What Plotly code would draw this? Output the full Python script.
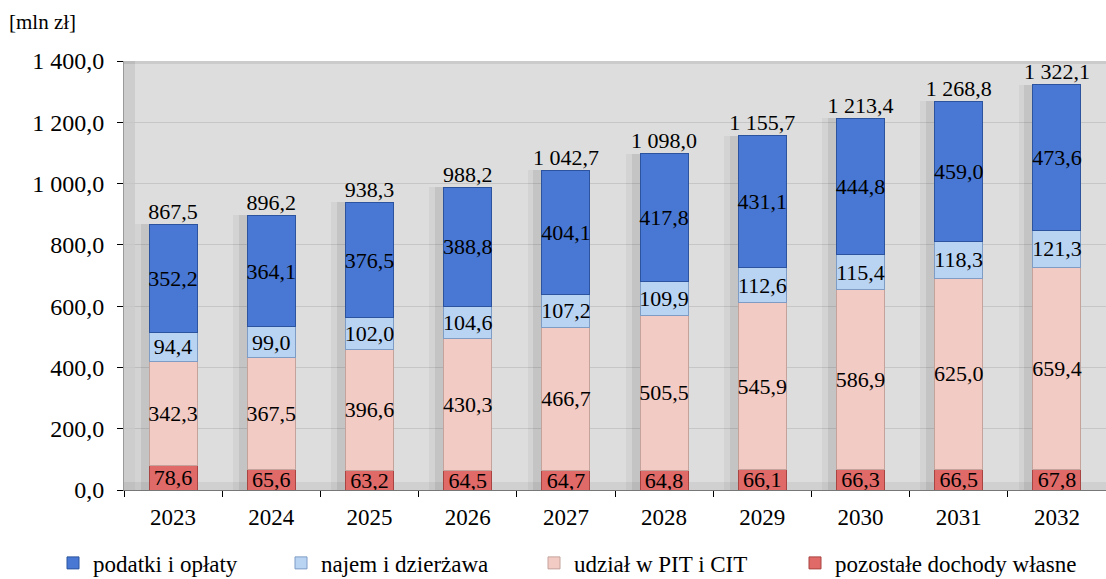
import plotly.graph_objects as go

years = ["2023", "2024", "2025", "2026", "2027", "2028", "2029", "2030", "2031", "2032"]
pozostale = [78.6, 65.6, 63.2, 64.5, 64.7, 64.8, 66.1, 66.3, 66.5, 67.8]
udzial = [342.3, 367.5, 396.6, 430.3, 466.7, 505.5, 545.9, 586.9, 625.0, 659.4]
najem = [94.4, 99.0, 102.0, 104.6, 107.2, 109.9, 112.6, 115.4, 118.3, 121.3]
podatki = [352.2, 364.1, 376.5, 388.8, 404.1, 417.8, 431.1, 444.8, 459.0, 473.6]
totals = [867.5, 896.2, 938.3, 988.2, 1042.7, 1098.0, 1155.7, 1213.4, 1268.8, 1322.1]


def fmt(v):
    s = f"{v:,.1f}"
    return s.replace(",", " ").replace(".", ",")


FONT = "Liberation Serif"
PLOT_W = 982.0
series = [
    ("pozostałe dochody własne", pozostale, "#df6a67", "#a84441", "legend4", 795),
    ("udział w PIT i CIT", udzial, "#f2cbc4", "#c4a39c", "legend3", 534),
    ("najem i dzierżawa", najem, "#b9d3f3", "#7e9cc4", "legend2", 281),
    ("podatki i opłaty", podatki, "#4878d4", "#2c549e", "legend", 53),
]

fig = go.Figure()

# soft shadows behind the bars
fig.add_trace(go.Bar(x=years, y=totals, xaxis="x", yaxis="y", width=0.58, offset=-0.39,
                     marker=dict(color="rgba(0,0,0,0.045)", line=dict(width=0)),
                     showlegend=False, hoverinfo="skip"))
fig.add_trace(go.Bar(x=years, y=totals, xaxis="x2", yaxis="y", width=0.52, offset=-0.33,
                     marker=dict(color="rgba(0,0,0,0.065)", line=dict(width=0)),
                     showlegend=False, hoverinfo="skip"))

legends = {}
for name, vals, col, line, leg, px in series:
    fig.add_trace(go.Bar(
        x=years, y=vals, name=name, xaxis="x3", yaxis="y", legend=leg,
        width=0.49,
        marker=dict(color=col, line=dict(color=line, width=1)),
        text=[fmt(v) for v in vals], textposition="inside", textangle=0,
        insidetextanchor="middle", constraintext="none",
        textfont=dict(family=FONT, size=22, color="black"),
    ))
    legends[leg] = dict(orientation="h", x=(px - 124) / PLOT_W, xanchor="left",
                        y=-0.17, yanchor="middle", font=dict(family=FONT, size=23),
                        itemwidth=30, bgcolor="rgba(0,0,0,0)", borderwidth=0)

fig.add_trace(go.Scatter(
    x=years, y=totals, mode="text", text=[fmt(v) for v in totals], xaxis="x3", yaxis="y",
    textposition="top center", showlegend=False, cliponaxis=False,
    textfont=dict(family=FONT, size=22, color="black"), hoverinfo="skip",
))

fig.update_layout(
    width=1106, height=579,
    barmode="stack",
    separators=", ",
    paper_bgcolor="white", plot_bgcolor="#dddddd",
    margin=dict(l=124, r=0, t=61, b=89, autoexpand=False),
    font=dict(family=FONT, size=23, color="black"),
    uniformtext=dict(minsize=22, mode="show"),
    annotations=[dict(text="[mln zł]", x=-117 / PLOT_W, xref="paper", xanchor="left",
                      y=1 + 39 / 429, yref="paper", yanchor="middle",
                      showarrow=False, font=dict(family=FONT, size=21))],
    shapes=[
        dict(type="rect", xref="paper", yref="paper", x0=0, x1=11 / PLOT_W, y0=0, y1=1,
             fillcolor="rgba(0,0,0,0.07)", line=dict(width=0), layer="below"),
        dict(type="rect", xref="paper", yref="paper", x0=0, x1=1, y0=0, y1=8 / 429,
             fillcolor="rgba(0,0,0,0.06)", line=dict(width=0), layer="below"),
        dict(type="rect", xref="paper", yref="paper", x0=0, x1=1, y0=1 - 3 / 429, y1=1,
             fillcolor="rgba(0,0,0,0.08)", line=dict(width=0), layer="below"),
    ],
    yaxis=dict(range=[0, 1400], dtick=200, tickformat=",.1f",
               showgrid=True, gridcolor="#c6c6c6", gridwidth=1,
               showline=True, linecolor="#9a9a9a", linewidth=1,
               ticks="outside", ticklen=6, tickcolor="black",
               zeroline=False, ticklabelstandoff=8, automargin=False,
               tickfont=dict(family=FONT, size=24)),
    xaxis=dict(showline=True, linecolor="#777777", linewidth=1,
               ticks="outside", ticklen=6, tickcolor="black", tickson="boundaries",
               tickfont=dict(family=FONT, size=23), automargin=False, ticklabelstandoff=6),
    xaxis2=dict(overlaying="x", matches="x", visible=False),
    xaxis3=dict(overlaying="x", matches="x", visible=False),
    **legends,
)

fig.write_html("out.html", config={"displayModeBar": False},
               post_script="document.body.style.margin='0';")
